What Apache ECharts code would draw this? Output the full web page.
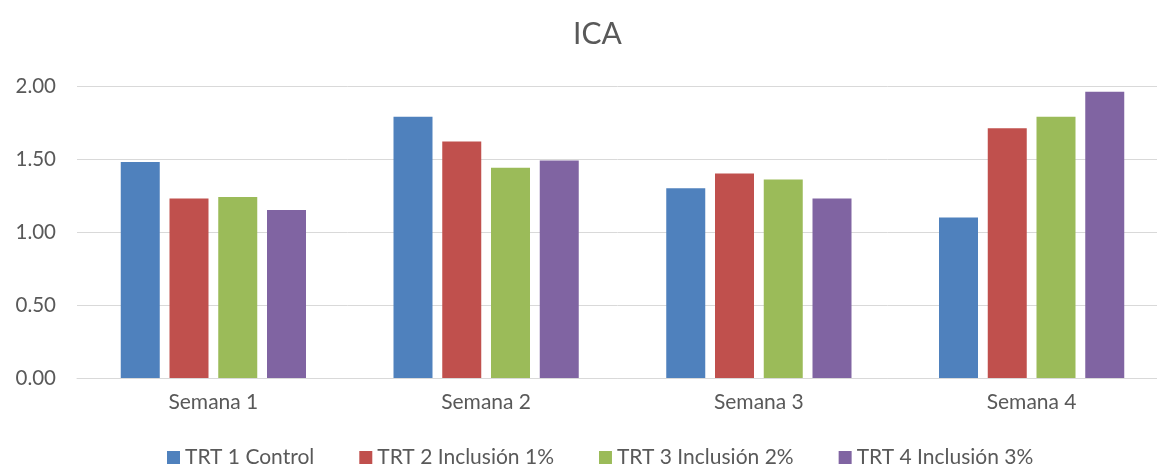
<!DOCTYPE html>
<html>
	<head>
		<meta charset="utf-8">
		<title>ICA</title>
		<script src="https://cdn.jsdelivr.net/npm/echarts@6/dist/echarts.min.js"></script>
		<style>
			html, body { margin: 0; padding: 0; background: #fff; }
		</style>
	</head>
	<body>
		<div id="main" style="width: 1157px;height:472px;"></div>

		<script type="text/javascript">
			// 数据
			var semanas = ['Semana 1', 'Semana 2', 'Semana 3', 'Semana 4'];
			var trt1 = [1.48, 1.79, 1.30, 1.10];
			var trt2 = [1.23, 1.62, 1.40, 1.71];
			var trt3 = [1.24, 1.44, 1.36, 1.79];
			var trt4 = [1.15, 1.49, 1.23, 1.96];
			var nombres = ['TRT 1 Control', 'TRT 2 Inclusión 1%', 'TRT 3 Inclusión 2%', 'TRT 4 Inclusión 3%'];
			var colores = ['#4f81bd', '#c0504d', '#9bbb59', '#8064a2'];
			var valores = [trt1, trt2, trt3, trt4];

			var fuente = 'Lato';
			var gris = '#595959';

			var series = [];
			for (var i = 0; i < valores.length; i++) {
				series.push({
					name: nombres[i],
					type: 'bar',
					data: valores[i],
					barWidth: 39,
					barGap: '25%',
					itemStyle: { color: colores[i] }
				});
			}

			var myChart = echarts.init(document.getElementById('main'));
			var option = {
				animation: false,
				color: colores,
				title: {
					text: 'ICA',
					left: 568,
					top: 14,
					textStyle: { fontFamily: fuente, fontSize: 30, fontWeight: 'normal', color: gris }
				},
				legend: {
					bottom: -1,
					left: 162,
					itemWidth: 13,
					itemHeight: 13,
					itemGap: 45,
					icon: 'rect',
					textStyle: { fontFamily: fuente, fontSize: 21, color: gris },
					data: nombres
				},
				grid: {
					left: 77,
					top: 86,
					width: 1091,
					height: 292,
					outerBoundsMode: 'none'
				},
				xAxis: {
					type: 'category',
					data: semanas,
					axisTick: { show: false },
					axisLine: { lineStyle: { color: '#d9d9d9', width: 1 } },
					axisLabel: { fontFamily: fuente, fontSize: 21, color: gris, margin: 14 }
				},
				yAxis: {
					type: 'value',
					min: 0,
					max: 2,
					interval: 0.5,
					axisLine: { show: false },
					axisTick: { show: false },
					splitLine: { lineStyle: { color: '#d9d9d9', width: 1 } },
					axisLabel: {
						fontFamily: fuente, fontSize: 20.5, color: gris, margin: 21,
						formatter: function (v) { return v.toFixed(2); }
					}
				},
				series: series
			};

			myChart.setOption(option);
		</script>
	</body>
</html>
